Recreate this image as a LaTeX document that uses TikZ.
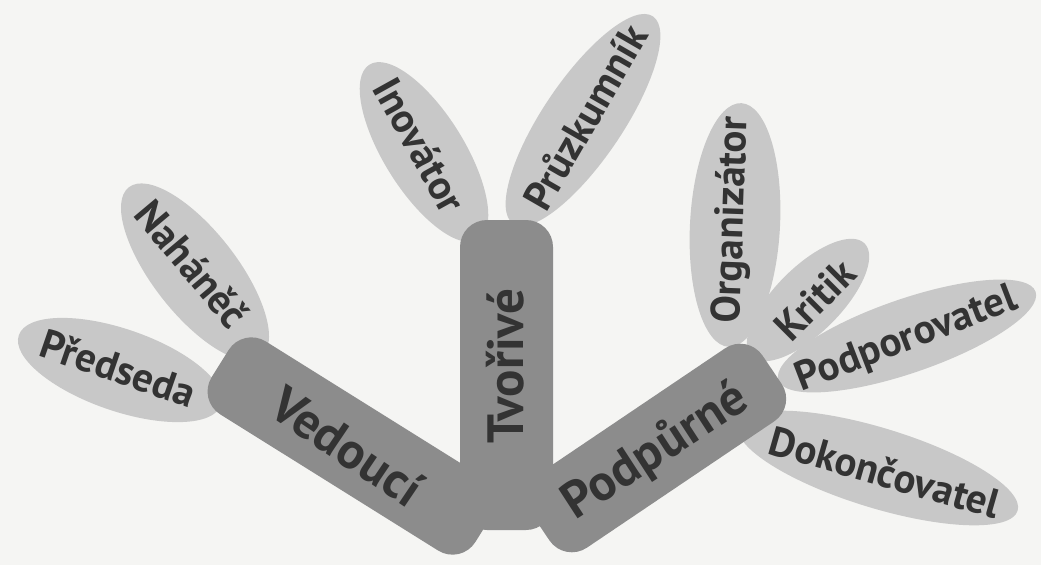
\documentclass[tikz,border=0pt]{standalone}
\usepackage{fontspec}
\setmainfont{PT Sans}
\usetikzlibrary{shapes.geometric}
\definecolor{bg}{HTML}{F5F5F3}
\definecolor{boxfill}{HTML}{8C8C8C}
\definecolor{ellfill}{HTML}{C8C8C8}
\definecolor{ink}{HTML}{333333}
\begin{document}
\begin{tikzpicture}[x=1pt,y=-1pt,
  ell/.style={ellipse, fill=ellfill, draw=none, inner sep=0pt},
  bar/.style={rectangle, rounded corners=27pt, fill=boxfill, draw=none, inner sep=0pt},
  lbl/.style={text=ink, font=\bfseries\fontsize{41}{41}\selectfont, inner sep=0pt},
  blbl/.style={text=ink, font=\bfseries\fontsize{51}{51}\selectfont, inner sep=0pt}]
\fill[bg] (0,0) rectangle (1041,565);
\useasboundingbox (0,0) rectangle (1041,565);
% ellipses
\node[ell, minimum width=214pt, minimum height=82pt, rotate=-19] (pred) at (120,370) {};
\node[ell, minimum width=215pt, minimum height=84pt, rotate=-52] (nah) at (195,272) {};
\node[ell, minimum width=206pt, minimum height=80pt, rotate=-58] (inov) at (424,152) {};
\node[ell, minimum width=250pt, minimum height=80pt, rotate=56] (pruz) at (583,120) {};
\node[ell, minimum width=244pt, minimum height=90pt, rotate=87] (org) at (735,225) {};
\node[ell, minimum width=160pt, minimum height=66pt, rotate=45] (krit) at (808,300) {};
\node[ell, minimum width=272pt, minimum height=74pt, rotate=19] (podp) at (907,336) {};
\node[ell, minimum width=292pt, minimum height=80pt, rotate=-17] (dok) at (878,468) {};
% ellipse labels
\node[lbl, rotate=-19] (predt) at (118,368) {Předseda};
\node[lbl, rotate=-50] (naht) at (192,264) {Naháněč};
\node[lbl, rotate=-61] (inovt) at (420,145) {Inovátor};
\node[lbl, rotate=60] (pruzt) at (585,117) {Průzkumník};
\node[lbl, rotate=88] (orgt) at (733,220) {Organizátor};
\node[lbl, rotate=45] (kritt) at (815,300) {Kritik};
\node[lbl, rotate=21] (podpt) at (907,340) {Podporovatel};
\node[lbl, rotate=-16] (dokt) at (885,472) {Dokončovatel};
% bars
\node[bar, minimum width=93pt, minimum height=310pt] (tvo) at (506.5,375) {};
\node[bar, minimum width=311pt, minimum height=86pt, rotate=-32] (ved) at (352,446) {};
\node[bar, minimum width=280pt, minimum height=88pt, rotate=34] (pod) at (656,448) {};
% bar labels
\node[blbl, rotate=-34] (vedt) at (347,446) {Vedoucí};
\node[blbl, rotate=90] (tvot) at (505,366) {Tvořivé};
\node[blbl, rotate=33] (podt) at (656,452) {Podpůrné};
\end{tikzpicture}
\end{document}
